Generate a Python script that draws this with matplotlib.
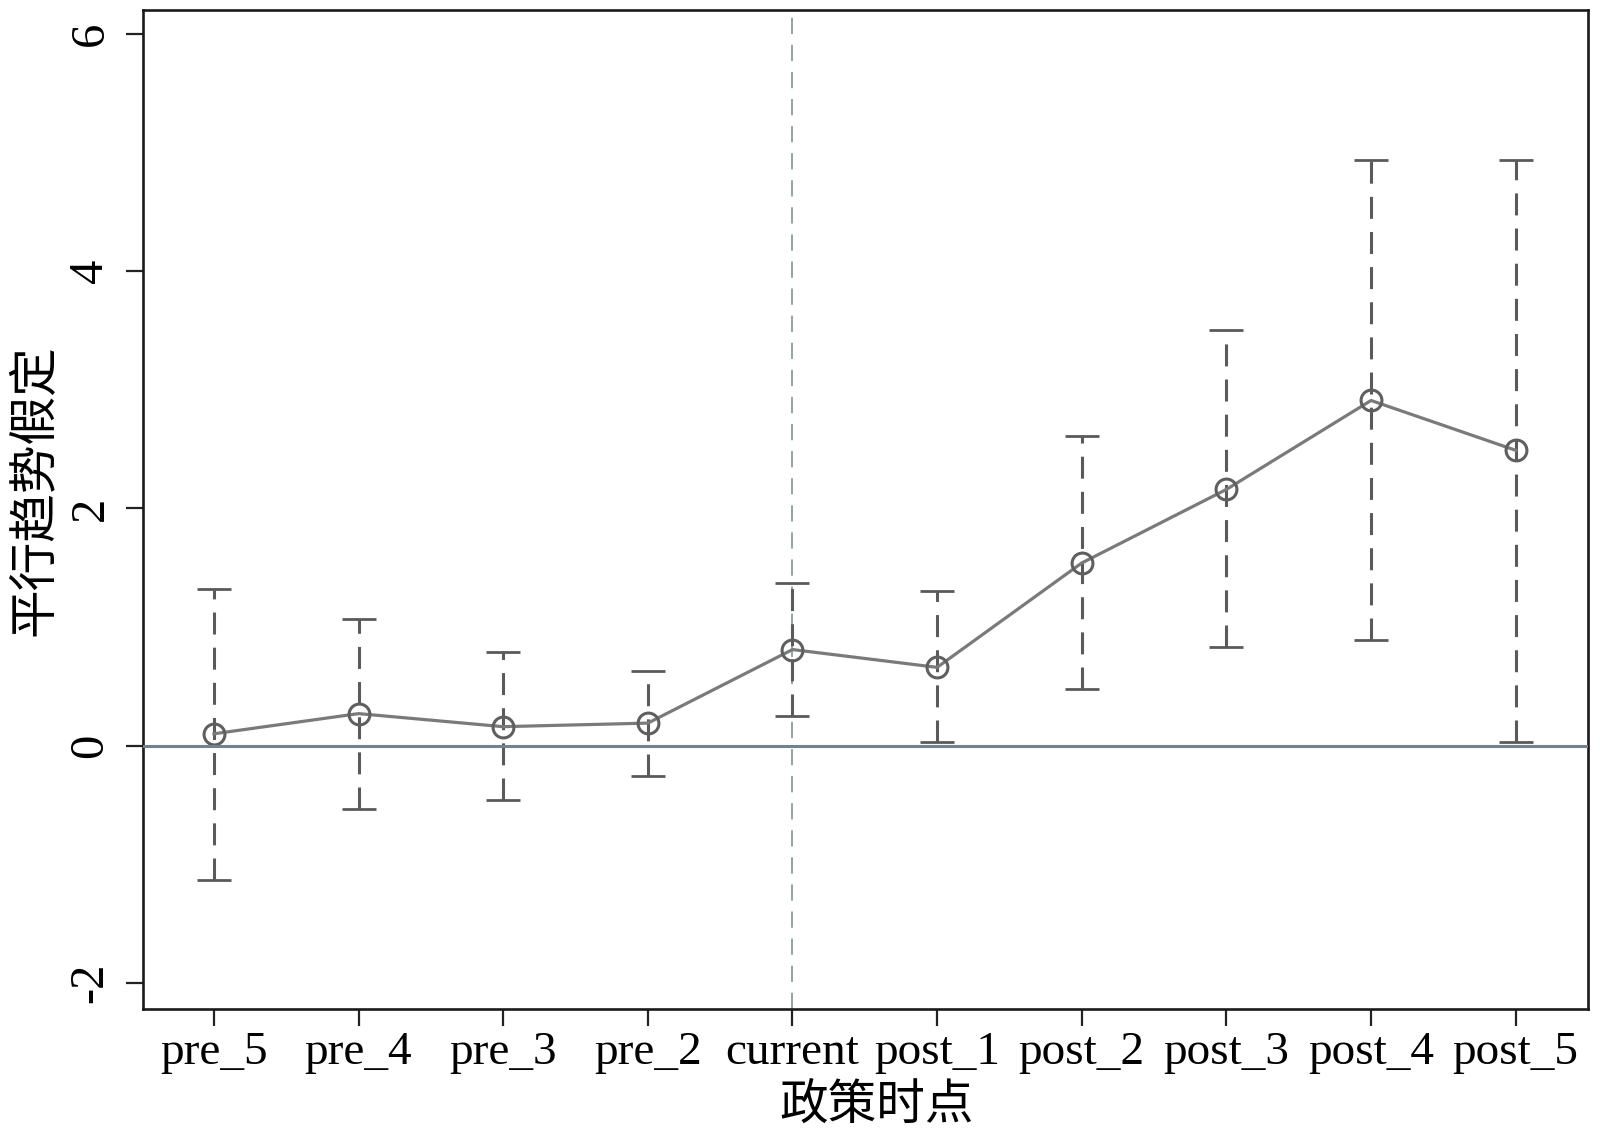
import numpy as np
import matplotlib.pyplot as plt

plt.rcParams['font.family'] = ['Liberation Serif', 'Noto Sans CJK SC']

periods = ["pre_5", "pre_4", "pre_3", "pre_2", "current",
           "post_1", "post_2", "post_3", "post_4", "post_5"]
coef = [0.10, 0.27, 0.16, 0.19, 0.81, 0.66, 1.54, 2.16, 2.91, 2.49]
ci_low = [-1.13, -0.53, -0.46, -0.26, 0.25, 0.03, 0.48, 0.83, 0.89, 0.03]
ci_high = [1.32, 1.07, 0.79, 0.63, 1.37, 1.30, 2.61, 3.50, 4.94, 4.94]
yticks = [-2, 0, 2, 4, 6]

x = np.arange(len(periods))
coef = np.array(coef)
err = [coef - np.array(ci_low), np.array(ci_high) - coef]

fig = plt.figure(figsize=(16, 11.37), dpi=100)
ax = fig.add_axes([0.0894, 0.1126, 0.9031, 0.8784])

# reference lines
ax.axhline(0, color="#72838f", lw=2.2, zorder=4)
ax.axvline(4, color="#8c9c9c", lw=1.3, ls=(0, (9, 6)), zorder=1)

# confidence intervals
eb = ax.errorbar(x, coef, yerr=err, fmt="none", ecolor="#5a5a5a",
                 elinewidth=2.2, capsize=12, capthick=2.0, zorder=2)
for lc in eb[2]:
    lc.set_linestyle((0, (7.2, 4.3)))

ax.plot(x, coef, color="#7a7a7a", lw=2.3, marker="o", ms=15,
        mfc="none", mec="#5f5f5f", mew=2.2, zorder=3)

ax.set_xlim(-0.49, 9.5)
ax.set_ylim(-2.22, 6.2)
ax.set_xticks(x)
ax.set_xticklabels(periods, fontsize=34)
ax.set_yticks(yticks)
ax.set_yticklabels([str(v) for v in yticks], fontsize=35, rotation=90,
                   va="center")
ax.tick_params(axis="both", length=12, width=1.6, color="#222222")
ax.tick_params(axis="y", pad=10)
ax.tick_params(axis="x", pad=4)
for s in ax.spines.values():
    s.set_linewidth(1.9)
    s.set_color("#1a1a1a")

ax.set_ylabel("平行趋势假定", fontsize=35, family=["Noto Sans CJK SC"])
ax.yaxis.set_label_coords(-0.058, 0.52)
ax.set_xlabel("政策时点", fontsize=35, family=["Noto Sans CJK SC"])
ax.xaxis.set_label_coords(0.508, -0.072)

fig.savefig("out.png")
